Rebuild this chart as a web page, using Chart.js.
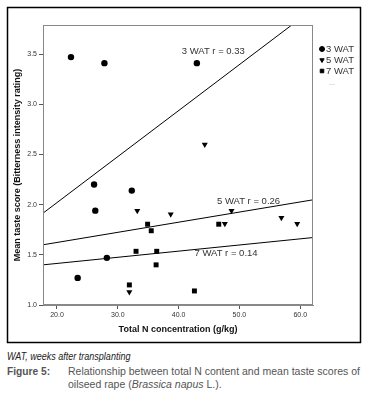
<!DOCTYPE html>
<html>
<head>
<meta charset="utf-8">
<script src="https://cdn.jsdelivr.net/npm/chart.js@4.4.0/dist/chart.umd.min.js"></script>
<style>
body { margin: 0; background: #fff; width: 371px; height: 406px; overflow: hidden; }
#wrap { position: absolute; left: 0; top: 0; width: 371px; height: 345px; }
.txt { position: absolute; font-family: "Liberation Sans Narrow", "Liberation Sans", Arial, sans-serif; white-space: nowrap; transform-origin: 0 0; }
.note { left: 7px; top: 351px; font-style: italic; font-size: 10px; color: #222; transform: scaleX(0.9); }
.fig { left: 7px; top: 365px; font-size: 11px; color: #555; font-weight: bold; transform: scaleX(0.93); }
.cap { left: 68px; top: 365px; font-size: 11px; color: #555; line-height: 13px; transform: scaleX(0.955); }
</style>
</head>
<body>
<div id="wrap"><canvas id="myChart" width="371" height="345"></canvas></div>
<div class="txt note">WAT, weeks after transplanting</div>
<div class="txt fig">Figure 5:</div>
<div class="txt cap">Relationship between total N content and mean taste scores of<br>oilseed rape (<i>Brassica napus</i> L.).</div>
<script>
// punten per oogstmoment (weken na uitplanten)
const wat3X = [22.3, 27.8, 43.0, 26.1, 32.3, 26.3, 28.2, 23.4];
const wat3Y = [3.47, 3.41, 3.41, 2.20, 2.14, 1.94, 1.47, 1.27];
const wat5X = [44.3, 33.2, 38.7, 31.9, 48.7, 47.6, 56.9, 59.5];
const wat5Y = [2.60, 1.94, 1.905, 1.13, 1.94, 1.81, 1.87, 1.81];
const wat7X = [34.9, 35.5, 33.0, 36.4, 36.3, 31.9, 46.6, 42.6];
const wat7Y = [1.805, 1.74, 1.535, 1.535, 1.40, 1.20, 1.805, 1.14];

const fitX = [17.7, 62.1];
const fit3Y = [1.915, 3.95];
const fit5Y = [1.60, 2.048];
const fit7Y = [1.40, 1.672];
const fitLabels = ['3 WAT r = 0.33', '5 WAT r = 0.26', '7 WAT r = 0.14'];
const seriesNames = ['3 WAT', '5 WAT', '7 WAT'];

const xTicks = [20, 30, 40, 50, 60];
const yTicks = [1.0, 1.5, 2.0, 2.5, 3.0, 3.5];

function pts(xs, ys) {
    return xs.map((x, i) => ({ x: x, y: ys[i] }));
}

const font = '"Liberation Sans", Arial, sans-serif';

const extras = {
    id: 'extras',
    afterDraw(chart) {
        const ctx = chart.ctx;
        const a = chart.chartArea;
        const xs = chart.scales.x, ys = chart.scales.y;
        ctx.save();
        // kader rond plotgebied
        ctx.strokeStyle = '#888';
        ctx.lineWidth = 1;
        ctx.strokeRect(a.left + 0.5, a.top + 0.5, a.right - a.left - 1, a.bottom - a.top - 1);

        // labels bij de lijnen
        ctx.fillStyle = '#333';
        ctx.font = '9.5px ' + font;
        ctx.textAlign = 'center';
        ctx.textBaseline = 'middle';
        const labelPos = [[45.7, 3.525], [51.5, 2.03], [47.8, 1.51]];
        labelPos.forEach((p, i) => {
            ctx.fillText(fitLabels[i], xs.getPixelForValue(p[0]), ys.getPixelForValue(p[1]));
        });

        // legenda rechts
        ctx.textAlign = 'left';
        for (let i = 0; i < 3; i++) {
            const ds = chart.data.datasets[i];
            const yy = 49 + i * 11;
            ctx.fillStyle = '#000';
            ctx.strokeStyle = '#000';
            Chart.helpers.drawPoint(ctx, {
                pointStyle: ds.pointStyle,
                rotation: ds.rotation || 0,
                radius: 2.5,
                borderWidth: 1
            }, 322, yy);
            ctx.fillStyle = '#333';
            ctx.fillText(seriesNames[i], 326, yy);
        }
        ctx.fillStyle = '#999';
        ctx.font = '7px ' + font;
        ctx.fillText('...', 329, 83);

        // buitenkader
        ctx.strokeStyle = '#000';
        ctx.lineWidth = 1.5;
        ctx.strokeRect(7.5, 7.5, 353, 335);
        ctx.restore();
    }
};

const ctx = document.getElementById('myChart').getContext('2d');
const myChart = new Chart(ctx, {
    type: 'scatter',
    data: {
        datasets: [
            { label: seriesNames[0], data: pts(wat3X, wat3Y), pointStyle: 'circle', pointRadius: 3.2,
              backgroundColor: '#000', borderColor: '#000', borderWidth: 0 },
            { label: seriesNames[1], data: pts(wat5X, wat5Y), pointStyle: 'triangle', rotation: 180, pointRadius: 3.5,
              backgroundColor: '#000', borderColor: '#000', borderWidth: 0 },
            { label: seriesNames[2], data: pts(wat7X, wat7Y), pointStyle: 'rect', pointRadius: 3.5,
              backgroundColor: '#000', borderColor: '#000', borderWidth: 0 },
            { data: pts(fitX, fit3Y), showLine: true, pointRadius: 0, borderColor: '#000', borderWidth: 1 },
            { data: pts(fitX, fit5Y), showLine: true, pointRadius: 0, borderColor: '#000', borderWidth: 1 },
            { data: pts(fitX, fit7Y), showLine: true, pointRadius: 0, borderColor: '#000', borderWidth: 1 }
        ]
    },
    options: {
        responsive: false,
        animation: false,
        layout: { padding: { left: 0, top: 25, right: 58, bottom: 0 } },
        plugins: {
            legend: { display: false },
            tooltip: { enabled: false }
        },
        scales: {
            x: {
                type: 'linear',
                min: 17.7,
                max: 62.1,
                afterFit: (s) => { s.height = 40; },
                afterBuildTicks: (s) => { s.ticks = xTicks.map(v => ({ value: v })); },
                ticks: {
                    font: { family: font, size: 7 },
                    color: '#333',
                    padding: 2,
                    maxRotation: 0,
                    callback: (v) => Number(v).toFixed(1)
                },
                grid: { drawOnChartArea: false, drawTicks: true, tickLength: 4, color: '#555' },
                border: { color: '#888' },
                title: {
                    display: true,
                    text: 'Total N concentration (g/kg)',
                    font: { family: font, size: 9, weight: 'bold' },
                    color: '#111',
                    padding: { top: 0, bottom: 9.6 }
                }
            },
            y: {
                type: 'linear',
                min: 1.0,
                max: 3.79,
                afterFit: (s) => { s.width = 43; },
                afterBuildTicks: (s) => { s.ticks = yTicks.map(v => ({ value: v })); },
                ticks: {
                    font: { family: font, size: 7 },
                    color: '#333',
                    padding: 2,
                    callback: (v) => Number(v).toFixed(1)
                },
                grid: { drawOnChartArea: false, drawTicks: true, tickLength: 4, color: '#555' },
                border: { color: '#888' },
                title: {
                    display: true,
                    text: 'Mean taste score (Bitterness intensity rating)',
                    font: { family: font, size: 9, weight: 'bold' },
                    color: '#111',
                    padding: { top: 12, bottom: 0 }
                }
            }
        }
    },
    plugins: [extras]
});
</script>
</body>
</html>
